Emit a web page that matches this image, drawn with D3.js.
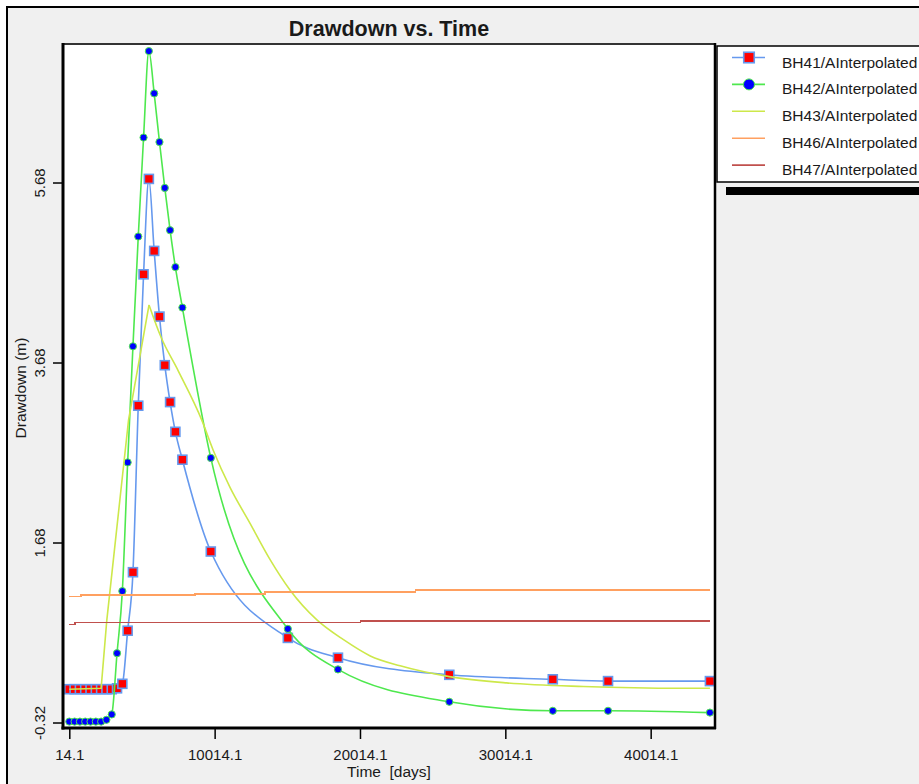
<!DOCTYPE html>
<html>
<head>
<meta charset="utf-8">
<script src="https://cdn.jsdelivr.net/npm/d3@7"></script>
<style>
  body { margin: 0; background: #fff; }
  svg text { font-family: "Liberation Sans", Arial, sans-serif; fill: #1a1a1a; }
</style>
</head>
<body>
<svg id="chart" width="919" height="784"></svg>
<script>
// time steps shared by BH41 and BH42 (days)
var times = [14.1, 379, 744, 1109, 1474, 1839, 2204, 2569, 2934, 3299,
             3664, 4029, 4394, 4759, 5124, 5489, 5854, 6219, 6584, 6949,
             7314, 7795, 9750, 15050, 18500, 26160, 33280, 37080, 44090];
var bh41 = [0.05, 0.05, 0.05, 0.05, 0.05, 0.05, 0.05, 0.05, 0.05, 0.06,
            0.11, 0.70, 1.35, 3.20, 4.66, 5.72, 4.92, 4.19, 3.65, 3.24,
            2.91, 2.60, 1.58, 0.62, 0.40, 0.21, 0.16, 0.14, 0.14];
var bh42 = [-0.31, -0.31, -0.31, -0.31, -0.31, -0.31, -0.31, -0.29, -0.23, 0.45,
            1.14, 2.57, 3.86, 5.08, 6.18, 7.14, 6.67, 6.13, 5.62, 5.15,
            4.74, 4.29, 2.62, 0.72, 0.27, -0.09, -0.19, -0.19, -0.21];

var bh43Times = [14.1, 2204, 2590, 4090, 5500, 6330, 7500, 9130, 9930, 11080,
                 12460, 13830, 15210, 17050, 18880, 20720, 22780, 26160, 30110,
                 35380, 42150, 44090];
var bh43 = [0.05, 0.06, 0.81, 3.04, 4.32, 3.96, 3.59, 3.04, 2.70, 2.29,
            1.89, 1.49, 1.15, 0.82, 0.60, 0.42, 0.31, 0.19, 0.12,
            0.08, 0.06, 0.06];

var bh46Times = [14.1, 820, 8670, 13490, 23820, 44090];
var bh46 = [1.08, 1.10, 1.11, 1.13, 1.15, 1.15];

var bh47Times = [14.1, 410, 20040, 44090];
var bh47 = [0.77, 0.79, 0.81, 0.81];

var seriesNames = ["BH41/AInterpolated", "BH42/AInterpolated", "BH43/AInterpolated",
                   "BH46/AInterpolated", "BH47/AInterpolated"];
var xTickValues = [14.1, 10014.1, 20014.1, 30014.1, 40014.1];
var yTickValues = [-0.32, 1.68, 3.68, 5.68];

var svg = d3.select("#chart");
var plotL = 63, plotT = 44, plotR = 715, plotB = 728;

// outer panel
svg.append("rect").attr("x", 7).attr("y", 7).attr("width", 1000).attr("height", 1000)
    .attr("fill", "#f0f0f0").attr("stroke", "#000").attr("stroke-width", 2);

var x = d3.scaleLinear().domain([-419, 44440]).range([plotL, plotR]);
var y = d3.scaleLinear().domain([-0.381, 7.219]).range([plotB, plotT]);

svg.append("rect").attr("x", plotL).attr("y", plotT)
    .attr("width", plotR - plotL).attr("height", plotB - plotT)
    .attr("fill", "#fff");

svg.append("clipPath").attr("id", "clip").append("rect")
    .attr("x", plotL).attr("y", plotT).attr("width", plotR - plotL).attr("height", plotB - plotT);

// axes
var minorX = d3.range(14.1, 44100, 2000);
var minorY = d3.range(-0.32, 7.2, 0.5);

var gx = svg.append("g").attr("transform", "translate(0," + plotB + ")");
gx.call(d3.axisBottom(x).tickValues(minorX).tickSize(6).tickFormat(""));
gx.call(d3.axisBottom(x).tickValues(xTickValues).tickSize(11).tickPadding(10)
    .tickFormat(function(d){ return d.toFixed(1); }));
gx.selectAll(".domain").remove();
gx.selectAll("line").attr("stroke", "#000").attr("stroke-width", 1.5);
gx.selectAll("text").attr("font-size", 15).attr("fill", "#1a1a1a");

var gy = svg.append("g").attr("transform", "translate(" + plotL + ",0)");
gy.call(d3.axisLeft(y).tickValues(minorY).tickSize(6).tickFormat(""));
gy.call(d3.axisLeft(y).tickValues(yTickValues).tickSize(10)
    .tickFormat(function(d){ return d.toFixed(2); }));
gy.selectAll(".domain").remove();
gy.selectAll("line").attr("stroke", "#000").attr("stroke-width", 1.5);
gy.selectAll("text").attr("font-size", 15).attr("fill", "#1a1a1a")
    .attr("transform", "rotate(-90)").attr("x", 0).attr("y", -18).attr("dy", 0)
    .attr("text-anchor", "middle");

// series
var series = [
  {name: seriesNames[0], t: times, v: bh41, color: "#6699ee", marker: "square", curve: d3.curveMonotoneX},
  {name: seriesNames[1], t: times, v: bh42, color: "#4ee84e", marker: "circle", curve: d3.curveMonotoneX},
  {name: seriesNames[2], t: bh43Times, v: bh43, color: "#cde84a", marker: null, curve: "split"},
  {name: seriesNames[3], t: bh46Times, v: bh46, color: "#ffa060", marker: null, curve: d3.curveStepAfter},
  {name: seriesNames[4], t: bh47Times, v: bh47, color: "#c0504d", marker: null, curve: d3.curveStepAfter}
];

var plot = svg.append("g").attr("clip-path", "url(#clip)");

function drawMarker(g, type, cx, cy, size) {
    if (type === "square") {
        g.append("rect").attr("x", cx - size / 2).attr("y", cy - size / 2)
            .attr("width", size).attr("height", size)
            .attr("fill", "#ff0000").attr("stroke", "#6699ee").attr("stroke-width", 1.6);
    } else if (type === "circle") {
        g.append("circle").attr("cx", cx).attr("cy", cy).attr("r", size / 2)
            .attr("fill", "#0000ff").attr("stroke", "#4ee84e").attr("stroke-width", 1);
    }
}

function linePath(pts, curve) {
    return d3.line().x(function(d){ return x(d[0]); }).y(function(d){ return y(d[1]); }).curve(curve)(pts);
}

series.forEach(function(s) {
    var pts = s.t.map(function(t, i){ return [t, s.v[i]]; });
    var paths;
    if (s.curve === "split") {
        // straight rise up to the peak, smooth recession after it
        var k = d3.maxIndex(s.v);
        paths = [linePath(pts.slice(0, k + 1), d3.curveLinear), linePath(pts.slice(k), d3.curveMonotoneX)];
    } else {
        paths = [linePath(pts, s.curve)];
    }
    paths.forEach(function(p) {
        plot.append("path").attr("d", p).attr("fill", "none")
            .attr("stroke", s.color).attr("stroke-width", 1.6)
            .attr("shape-rendering", s.curve === d3.curveStepAfter ? "crispEdges" : null);
    });
    if (s.marker) {
        var mg = plot.append("g");
        pts.forEach(function(d){
            drawMarker(mg, s.marker, x(d[0]), y(d[1]), s.marker === "square" ? 9 : 7.2);
        });
    }
});

// plot frame
svg.append("line").attr("x1", plotL).attr("x2", plotR).attr("y1", plotT).attr("y2", plotT)
    .attr("stroke", "#333").attr("stroke-width", 2);
svg.append("line").attr("x1", plotR).attr("x2", plotR).attr("y1", plotT - 1).attr("y2", plotB + 1)
    .attr("stroke", "#000").attr("stroke-width", 2.5);
svg.append("line").attr("x1", plotL).attr("x2", plotL).attr("y1", plotT - 1).attr("y2", plotB + 1.5)
    .attr("stroke", "#000").attr("stroke-width", 3);
svg.append("line").attr("x1", plotL - 1.5).attr("x2", plotR + 1).attr("y1", plotB).attr("y2", plotB)
    .attr("stroke", "#000").attr("stroke-width", 3);

// titles
svg.append("text").attr("x", 389).attr("y", 35.5).attr("text-anchor", "middle")
    .attr("font-size", 21.5).attr("font-weight", "bold").attr("fill", "#000")
    .text("Drawdown vs. Time");
svg.append("text").attr("x", 389).attr("y", 777).attr("text-anchor", "middle")
    .attr("font-size", 15.5).style("white-space", "pre").text("Time  [days]");
svg.append("text").attr("transform", "translate(26,388) rotate(-90)").attr("text-anchor", "middle")
    .attr("font-size", 15.5).text("Drawdown (m)");

// legend
var lg = svg.append("g");
lg.append("rect").attr("x", 717).attr("y", 46).attr("width", 220).attr("height", 136)
    .attr("fill", "#fff").attr("stroke", "#000").attr("stroke-width", 1.5);
lg.append("rect").attr("x", 726).attr("y", 187).attr("width", 220).attr("height", 8).attr("fill", "#000");
series.forEach(function(s, i) {
    var by = 67.5 + i * 26.9;
    var ly = by - 10;
    lg.append("line").attr("x1", 732).attr("x2", 765).attr("y1", ly).attr("y2", ly)
        .attr("stroke", s.color).attr("stroke-width", 1.6);
    if (s.marker) drawMarker(lg, s.marker, 749, ly, s.marker === "square" ? 10.5 : 11);
    lg.append("text").attr("x", 782).attr("y", by).attr("font-size", 15.5).text(s.name);
});
</script>
</body>
</html>
